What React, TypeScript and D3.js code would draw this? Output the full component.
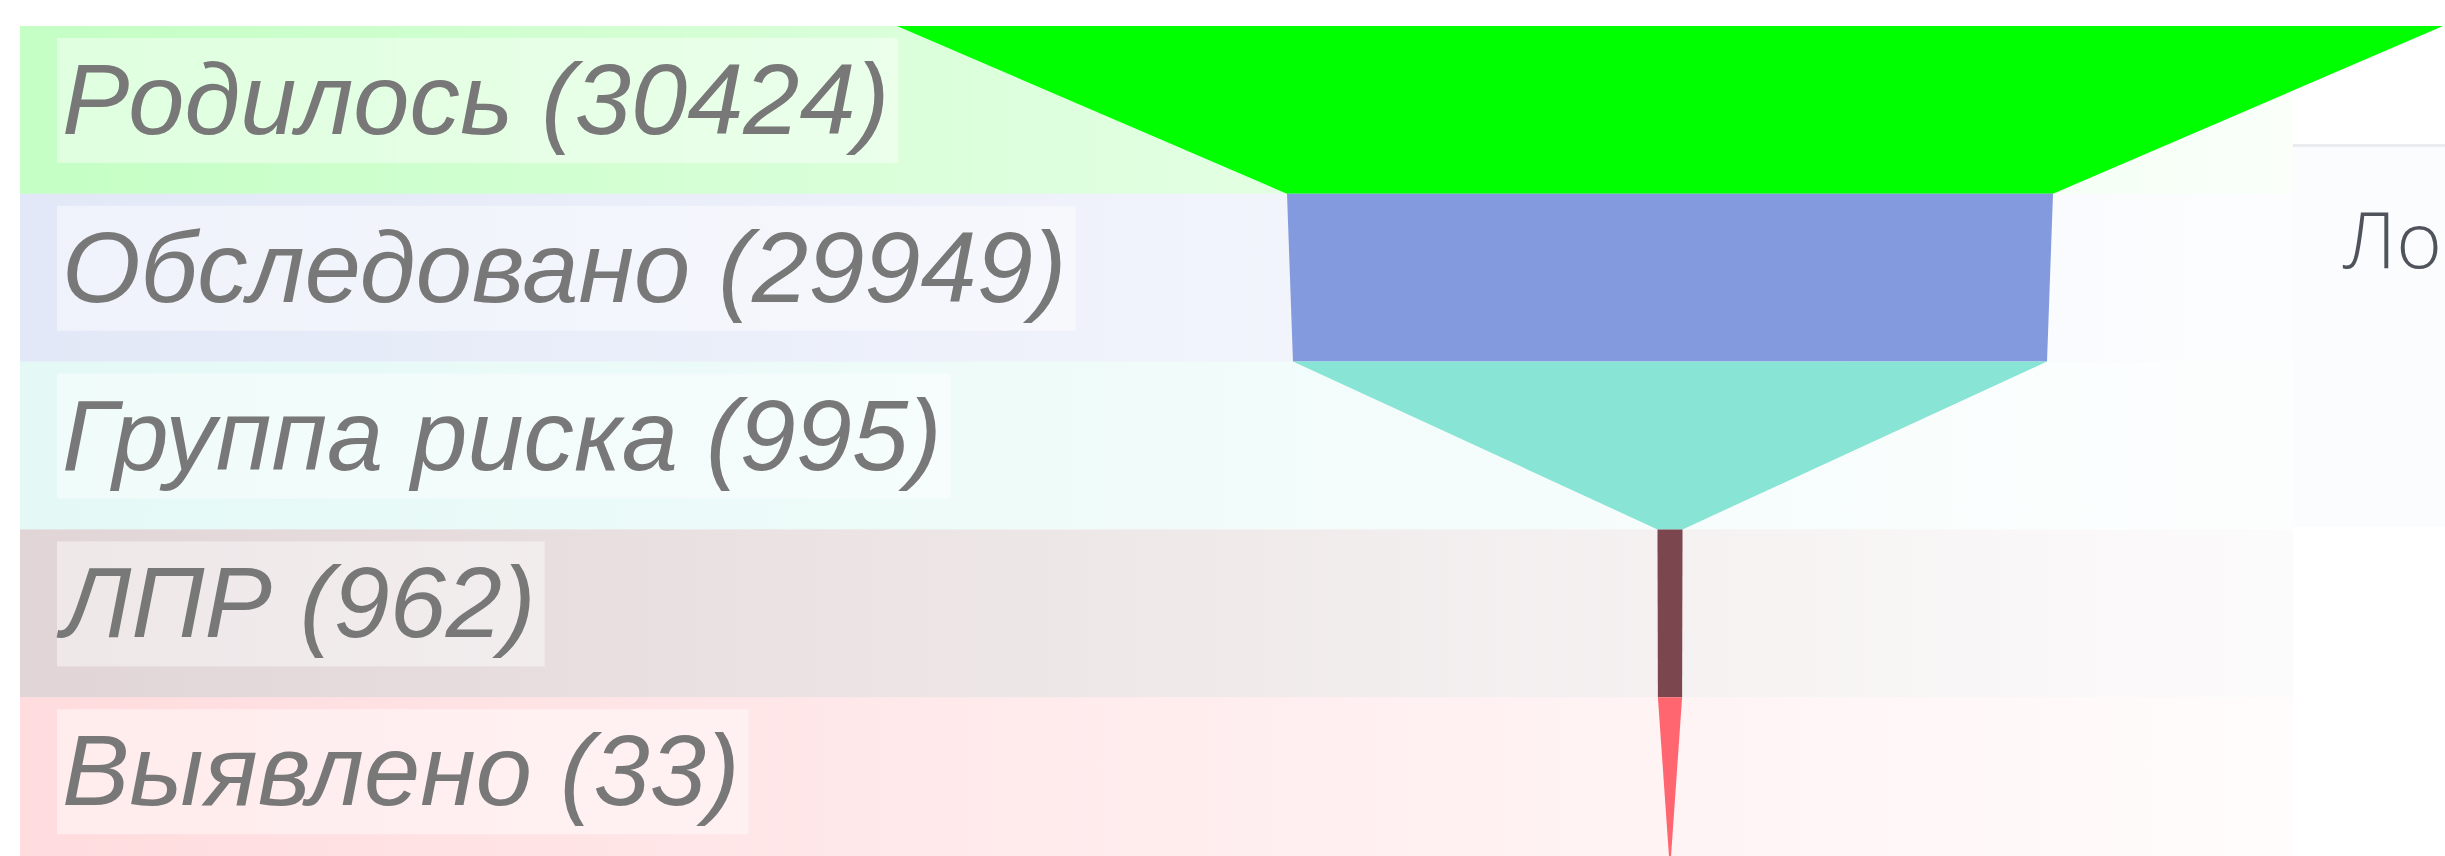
import React, { useRef, useEffect } from 'react';
import * as d3 from 'd3';

const stages = ['Родилось', 'Обследовано', 'Группа риска', 'ЛПР', 'Выявлено'];
const counts = [30424, 29949, 995, 962, 33];
const stageColors = ['#00ff00', '#839bde', '#88e4d5', '#7b464e', '#ff6670'];
const sideLabel = 'Ло';

const W = 2445;
const H = 856;

const Funnel: React.FC = () => {
    const ref = useRef<SVGSVGElement>(null);

    useEffect(() => {
        if (!ref.current) return;
        const svg = d3.select(ref.current);
        svg.selectAll("*").remove();

        const left = 20, right = 2293, top = 26, bandH = 167.8;
        const cx = 1670;
        const topWidth = 1546;

        const y = d3.scaleBand<string>()
            .domain(stages)
            .range([top, top + bandH * stages.length])
            .padding(0);
        const w = d3.scaleLinear().domain([0, counts[0]]).range([0, 766]);

        const defs = svg.append("defs");
        stages.forEach((s, i) => {
            const g = defs.append("linearGradient")
                .attr("id", `band-${i}`)
                .attr("x1", "0").attr("x2", "1").attr("y1", "0").attr("y2", "0");
            g.append("stop").attr("offset", "0").attr("stop-color", stageColors[i]).attr("stop-opacity", 0.23);
            g.append("stop").attr("offset", "0.6").attr("stop-color", stageColors[i]).attr("stop-opacity", 0.1);
            g.append("stop").attr("offset", "1").attr("stop-color", stageColors[i]).attr("stop-opacity", 0.02);
        });

        // background bands
        svg.append("g").selectAll("rect")
            .data(stages)
            .enter()
            .append("rect")
            .attr("x", left)
            .attr("y", d => y(d) as number)
            .attr("width", right - left)
            .attr("height", y.bandwidth())
            .attr("fill", (d, i) => `url(#band-${i})`);

        // side panel (cut off on the right)
        svg.append("rect")
            .attr("x", right).attr("y", 145)
            .attr("width", W - right).attr("height", 382)
            .attr("fill", "#fbfcfd");
        svg.append("rect")
            .attr("x", right).attr("y", 144)
            .attr("width", W - right).attr("height", 3)
            .attr("fill", "#e9ebef");
        svg.append("text")
            .attr("x", 2343).attr("y", 268)
            .style("font-family", "'Open Sans', 'Noto Sans', sans-serif")
            .style("font-weight", 300)
            .style("font-size", "78px")
            .style("fill", "#4f545c")
            .text(sideLabel);

        // funnel segments
        const seg = svg.append("g");
        stages.forEach((s, i) => {
            const y0 = y(s) as number;
            const y1 = y0 + y.bandwidth();
            const tw = i === 0 ? topWidth : w(counts[i - 1]);
            const bw = w(counts[i]);
            const pts: [number, number][] = [
                [cx - tw / 2, y0], [cx + tw / 2, y0],
                [cx + bw / 2, y1], [cx - bw / 2, y1],
            ];
            seg.append("path")
                .attr("d", d3.line()(pts) + "Z")
                .attr("fill", stageColors[i]);
        });

        // labels
        const lab = svg.append("g");
        stages.forEach((s, i) => {
            const y0 = y(s) as number;
            const box = lab.append("rect")
                .attr("x", 57)
                .attr("y", y0 + 12)
                .attr("height", 125)
                .attr("fill", "#ffffff")
                .attr("fill-opacity", 0.45);
            const t = lab.append("text")
                .attr("x", 62)
                .attr("y", y0 + 108)
                .style("font-family", "'Liberation Sans', Arial, sans-serif")
                .style("font-style", "italic")
                .style("font-size", "101px")
                .style("fill", "#787878")
                .text(`${s} (${counts[i]})`);
            const len = (t.node() as SVGTextElement).getComputedTextLength();
            box.attr("width", len + 14);
        });
    }, []);

    return <svg ref={ref} width={W} height={H} style={{ position: 'absolute', left: 0, top: 0, display: 'block' }}></svg>;
};

export default function App() {
    useEffect(() => {
        document.body.style.margin = '0';
        document.body.style.overflow = 'hidden';
    }, []);
    return <div style={{ width: W, height: H, background: '#ffffff' }}><Funnel /></div>;
}
